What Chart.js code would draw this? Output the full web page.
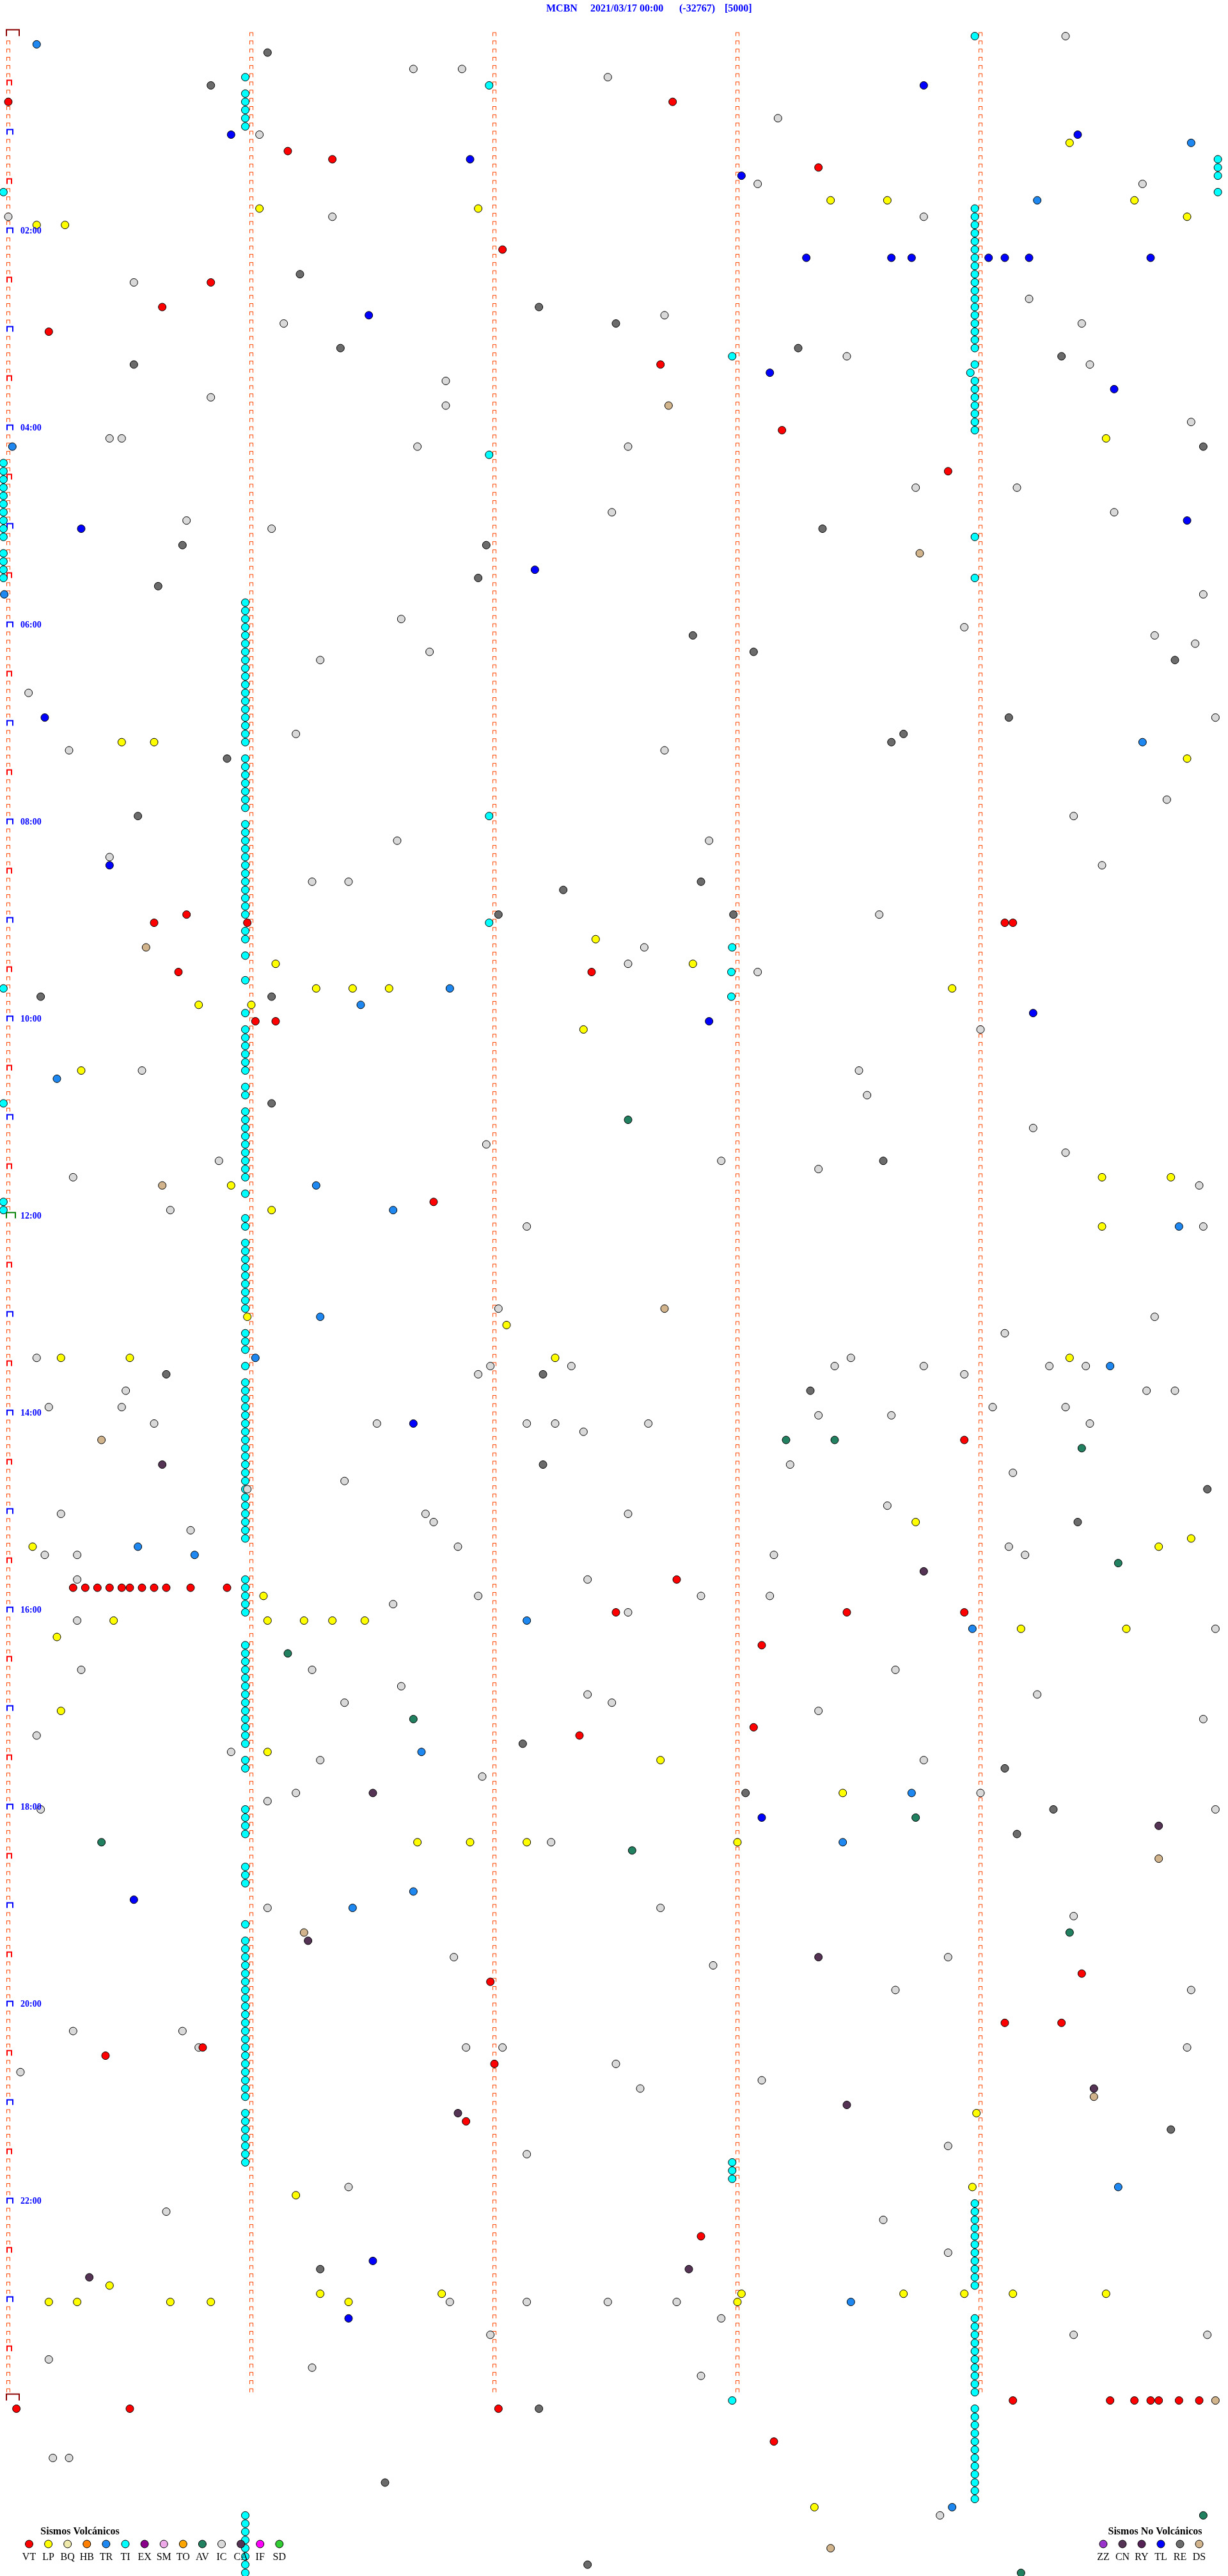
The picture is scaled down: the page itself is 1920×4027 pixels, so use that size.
<!DOCTYPE html>
<html><head><meta charset="utf-8">
<script src="https://cdn.jsdelivr.net/npm/chart.js@4.4.0/dist/chart.umd.min.js"></script>
<style>html,body{margin:0;padding:0;background:#fff;}canvas{display:block;}</style>
</head><body>
<canvas id="c" width="1920" height="4027"></canvas>
<script>
// ---------- header / labels ----------
const STATION = 'MCBN';
const DATE_LABEL = '2021/03/17 00:00';
const CLIP_LABEL = '(-32767)';
const SCALE_LABEL = '[5000]';
const HOUR_LABELS = ['02:00','04:00','06:00','08:00','10:00','12:00','14:00','16:00','18:00','20:00','22:00'];
const VOLC_TITLE = 'Sismos Volcánicos';
const VOLC_CODES = ['VT','LP','BQ','HB','TR','TI','EX','SM','TO','AV','IC','CA','IF','SD'];
const VOLC_COLORS = ['#FF0000','#FFFF00','#EEE8AA','#FF8000','#1E88F0','#00FFFF','#8B008B','#EEAAE8','#FFA500','#208060','#D9D9D9','#553355','#FF00FF','#32CD32'];
const NONVOLC_TITLE = 'Sismos No Volcánicos';
const NONVOLC_CODES = ['ZZ','CN','RY','TL','RE','DS'];
const NONVOLC_COLORS = ['#9933CC','#553355','#552255','#0000FF','#6B6B6B','#D2B48C'];

// rows of 5 minutes, x = seconds inside row, y = minute of day at row start
const ROW_MINUTES = 5;
const ROW_COUNT = 288;
const MARK_SECONDS = [0, 60, 120, 180, 240];

// ---------- events: [seconds in row, row start minute] ----------
const VT = [[0,40],[164,40],[69,70],[80,75],[200,80],[122,130],[50,150],[38,165],[10,180],[161,200],[191,240],[232,265],
[44,535],[36,540],[59,540],[246,540],[248,540],[42,570],[144,570],[61,600],[66,600],[105,710],[236,855],[165,940],
[16,945],[19,945],[22,945],[25,945],[28,945],[30,945],[33,945],[36,945],[39,945],[45,945],[54,945],
[150,960],[207,960],[236,960],[186,980],[184,1030],[141,1035],[265,1180],[119,1185],[246,1210],[260,1210],[48,1225],[24,1230],[120,1235],[113,1270],[171,1340],
[2,1445],[30,1445],[121,1445],[248,1440],[272,1440],[278,1440],[282,1440],[284,1440],[289,1440],[294,1440],[189,1465]];

const LP = [[262,65],[203,100],[217,100],[278,100],[7,115],[14,115],[62,105],[116,105],[291,110],[271,245],[28,430],[36,430],[291,440],
[145,550],[66,565],[169,565],[76,580],[85,580],[94,580],[233,580],[47,590],[60,590],[142,605],[18,630],[55,700],[65,715],
[270,695],[287,695],[270,725],[59,780],[123,785],[13,805],[30,805],[135,805],[262,805],[224,905],[6,920],[284,920],[292,915],
[63,950],[26,965],[64,965],[73,965],[80,965],[88,965],[250,970],[276,970],[12,975],[13,1020],[64,1045],[161,1050],[206,1070],
[101,1100],[114,1100],[128,1100],[180,1100],[239,1265],[238,1310],[71,1315],[25,1370],
[181,1375],[221,1375],[236,1375],[248,1375],[271,1375],[77,1375],[107,1375],
[10,1380],[17,1380],[40,1380],[50,1380],[84,1380],[180,1380],[199,1505]];

const IC = [[261,0],[100,20],[112,20],[148,25],[62,60],[190,50],[185,90],[280,90],[0,110],[80,110],[226,110],[31,150],[162,170],[252,160],[68,175],[265,175],
[207,195],[267,200],[108,210],[50,220],[108,225],[292,235],[25,245],[28,245],[101,250],[153,250],[224,275],[249,275],[149,290],[273,290],[44,295],[65,300],
[295,340],[97,355],[236,360],[283,365],[104,375],[77,380],[293,370],[5,400],[298,415],[71,425],[15,435],[162,435],[286,465],[263,475],[96,490],[173,490],
[25,500],[270,505],[75,515],[84,515],[215,535],[157,555],[153,565],[185,570],[240,605],[33,630],[210,630],[212,645],[253,665],[52,685],[118,675],[176,685],
[261,680],[200,690],[16,695],[294,700],[40,715],[128,725],[295,725],[246,790],[283,780],[121,775],[7,805],[139,810],[208,805],[204,810],[257,810],[266,810],
[119,810],[116,815],[226,810],[236,815],[29,825],[281,825],[288,825],[10,835],[28,835],[200,840],[218,840],[243,835],[261,835],[36,845],[91,845],
[128,845],[135,845],[142,850],[158,845],[267,845],[193,870],[248,875],[83,880],[59,885],[13,900],[45,910],[103,900],[105,905],[153,900],[217,895],
[9,925],[17,925],[111,920],[189,925],[247,920],[251,925],[17,940],[143,940],[171,950],[95,955],[116,950],[153,960],[188,950],[17,965],[298,970],
[75,995],[18,995],[219,995],[97,1005],[143,1010],[254,1010],[83,1015],[149,1015],[200,1020],[295,1025],[7,1035],[55,1045],[226,1050],[77,1050],
[117,1060],[71,1070],[240,1070],[64,1075],[8,1080],[298,1080],[134,1100],[64,1140],[161,1140],[263,1145],[110,1170],[174,1175],[232,1170],[219,1190],[292,1190],
[16,1215],[43,1215],[47,1225],[113,1225],[122,1225],[291,1225],[150,1235],[3,1240],[186,1245],[156,1250],[232,1285],[128,1290],[84,1310],[39,1325],[216,1330],
[232,1350],[165,1380],[109,1380],[128,1380],[148,1380],[176,1390],[119,1400],[263,1400],[296,1400],[10,1415],[75,1420],[171,1425],[11,1475],[15,1475],[230,1510]];

const RE = [[64,10],[50,30],[72,145],[131,165],[150,175],[82,190],[195,190],[260,195],[31,200],[295,250],[201,300],[43,310],[118,310],[116,330],[37,335],
[169,365],[184,375],[288,380],[247,415],[221,425],[218,430],[54,440],[32,475],[171,515],[137,520],[121,535],[179,535],[8,585],[65,585],[65,650],
[216,685],[39,815],[132,815],[198,825],[132,870],[296,885],[264,905],[127,1040],[246,1055],[182,1070],[258,1080],[249,1095],[287,1275],[77,1360],
[131,1445],[93,1490],[143,1540]];

const TL = [[226,30],[55,60],[264,60],[114,75],[181,85],[197,135],[218,135],[223,135],[242,135],[246,135],[252,135],[282,135],[89,170],[188,205],[273,215],
[18,300],[291,295],[130,325],[9,415],[25,505],[253,595],[173,600],[100,845],[186,1085],[31,1135],[90,1355],[84,1390]];

const TR = [[7,5],[292,65],[254,100],[1,250],[-1,340],[280,430],[109,580],[87,590],[12,635],[76,700],[95,715],[289,725],[77,780],[61,805],[272,810],
[32,920],[46,925],[238,970],[128,965],[102,1045],[223,1070],[206,1100],[85,1140],[100,1130],[274,1310],[208,1380],[233,1505]];

const TI = [
[58.5,25],[58.5,35],[58.5,40],[58.5,45],[58.5,50],[58.5,55],
[58.5,345],[58.5,350],[58.5,355],[58.5,360],[58.5,365],[58.5,370],[58.5,375],[58.5,380],[58.5,385],[58.5,390],[58.5,395],[58.5,400],[58.5,405],[58.5,410],[58.5,415],[58.5,420],[58.5,425],[58.5,430],
[58.5,440],[58.5,445],[58.5,450],[58.5,455],[58.5,460],[58.5,465],[58.5,470],
[58.5,480],[58.5,485],[58.5,490],[58.5,495],[58.5,500],[58.5,505],[58.5,510],[58.5,515],[58.5,520],[58.5,525],[58.5,530],[58.5,535],
[58.5,545],[58.5,550],[58.5,560],[58.5,575],[58.5,595],
[58.5,605],[58.5,610],[58.5,615],[58.5,620],[58.5,625],[58.5,630],[58.5,640],[58.5,645],
[58.5,655],[58.5,660],[58.5,665],[58.5,670],[58.5,675],[58.5,680],[58.5,685],[58.5,690],[58.5,695],[58.5,705],[58.5,720],[58.5,725],
[58.5,735],[58.5,740],[58.5,745],[58.5,750],[58.5,755],[58.5,760],[58.5,765],[58.5,770],[58.5,775],
[58.5,790],[58.5,795],[58.5,800],[58.5,810],
[58.5,820],[58.5,825],[58.5,830],[58.5,835],[58.5,840],[58.5,845],[58.5,850],[58.5,855],[58.5,860],[58.5,865],[58.5,870],[58.5,875],[58.5,880],[58.5,885],[58.5,890],[58.5,895],[58.5,900],[58.5,905],[58.5,910],[58.5,915],
[58.5,940],[58.5,945],[58.5,950],[58.5,955],[58.5,960],
[58.5,980],[58.5,985],[58.5,990],[58.5,995],[58.5,1000],[58.5,1005],[58.5,1010],[58.5,1015],[58.5,1020],[58.5,1025],[58.5,1030],[58.5,1035],[58.5,1040],
[58.5,1050],[58.5,1055],[58.5,1080],[58.5,1085],[58.5,1090],[58.5,1095],[58.5,1115],[58.5,1120],[58.5,1125],[58.5,1150],
[58.5,1160],[58.5,1165],[58.5,1170],[58.5,1175],[58.5,1180],[58.5,1185],[58.5,1190],[58.5,1195],[58.5,1200],[58.5,1205],[58.5,1210],[58.5,1215],[58.5,1220],[58.5,1225],[58.5,1230],[58.5,1235],[58.5,1240],[58.5,1245],[58.5,1250],[58.5,1255],
[58.5,1265],[58.5,1270],[58.5,1275],[58.5,1280],[58.5,1285],[58.5,1290],[58.5,1295],
[58.5,1510],[58.5,1515],[58.5,1520],[58.5,1525],[58.5,1530],[58.5,1535],[58.5,1540],[58.5,1545],
[238.6,0],[238.6,105],[238.6,110],[238.6,115],[238.6,120],[238.6,125],[238.6,130],[238.6,135],[238.6,140],[238.6,145],[238.6,150],[238.6,155],[238.6,160],[238.6,165],[238.6,170],[238.6,175],[238.6,180],[238.6,185],[238.6,190],
[238.6,200],[237.5,205],[238.6,210],[238.6,215],[238.6,220],[238.6,225],[238.6,230],[238.6,235],[238.6,240],[238.6,305],[238.6,330],
[238.6,1320],[238.6,1325],[238.6,1330],[238.6,1335],[238.6,1340],[238.6,1345],[238.6,1350],[238.6,1355],[238.6,1360],[238.6,1365],[238.6,1370],
[238.6,1390],[238.6,1395],[238.6,1400],[238.6,1405],[238.6,1410],[238.6,1415],[238.6,1420],[238.6,1425],[238.6,1430],[238.6,1435],
[238.6,1445],[238.6,1450],[238.6,1455],[238.6,1460],[238.6,1465],[238.6,1470],[238.6,1475],[238.6,1480],[238.6,1485],[238.6,1490],[238.6,1495],[238.6,1500],
[118.7,30],[118.7,255],[118.7,475],[118.7,540],
[178.7,195],[178.7,555],[178.5,570],[178.5,585],[178.7,1295],[178.7,1300],[178.7,1305],[178.7,1440],
[-1.2,95],[-1.2,260],[-1.2,265],[-1.2,270],[-1.2,275],[-1.2,280],[-1.2,285],[-1.2,290],[-1.2,295],[-1.2,300],[-1.2,305],
[-1.2,315],[-1.2,320],[-1.2,325],[-1.2,330],[-1.2,580],[-1.2,650],[-1.2,710],[-1.2,715],
[298.6,75],[298.6,80],[298.6,85],[298.6,95]];

const AV = [[153,660],[192,855],[204,855],[265,860],[274,930],[69,985],[100,1025],[224,1085],[23,1100],[154,1105],[262,1155],[295,1510],[250,1545]];
const CN = [[38,870],[226,935],[90,1070],[284,1090],[74,1160],[200,1170],[268,1250],[207,1260],[111,1265],[168,1360],[20,1365]];
const DS = [[163,225],[225,315],[34,555],[38,700],[162,775],[23,855],[284,1110],[73,1155],[268,1255],[298,1440],[203,1530]];

// ---------- scale window (seconds / minutes) ----------
const X_MIN = -2.05, X_MAX = 301.1;
const Y_MIN = -22.01, Y_MAX = 1546.9;

// ---------- glyphs for the row tick marks ----------
function bracket(L, R, T, B, lw, color) {
  const hw = Math.ceil(Math.max(Math.abs(L), Math.abs(R))) + 1;
  const hh = Math.ceil(Math.max(Math.abs(T), Math.abs(B))) + 1;
  const cv = document.createElement('canvas');
  cv.width = hw * 2; cv.height = hh * 2;
  const g = cv.getContext('2d');
  g.fillStyle = color;
  g.fillRect(hw + L, hh + T, R - L, lw);
  g.fillRect(hw + L, hh + T, lw, B - T);
  g.fillRect(hw + R - lw, hh + T, lw, B - T);
  return cv;
}
const G_SMALL = bracket(-3, 3, -6, 0, 1, '#FF4500');
const G_HOUR = bracket(-3, 8, -9, 0, 2, '#0000FF');
const G_HALF = bracket(-3, 6, -9, 0, 2, '#FF0000');
const G_NOON = bracket(-4, 12, -10, 0, 2, '#008000');
const G_DAY = bracket(-4, 18, -11, 0, 2, '#8B0000');

const small = [], hour = [], half = [], noon = [], day = [];
for (let r = 0; r < ROW_COUNT; r++) {
  MARK_SECONDS.forEach(s => {
    const p = {x: s, y: r * ROW_MINUTES};
    if (s === 0 && r % 6 === 0) {
      if (r === 0) day.push(p);
      else if (r === 144) noon.push(p);
      else if (r % 12 === 0) hour.push(p);
      else half.push(p);
    } else small.push(p);
  });
}
day.push({x: 0, y: ROW_COUNT * ROW_MINUTES});

function markDs(data, glyph) {
  return {data, pointStyle: glyph, pointRadius: 1, pointHoverRadius: 1, borderWidth: 0, backgroundColor: 'rgba(0,0,0,0)', order: 100, clip: false};
}
function evDs(label, pts, color, order) {
  return {label, data: pts.map(p => ({x: p[0], y: p[1]})), backgroundColor: color, borderColor: '#000000', borderWidth: 1,
    pointRadius: 6, pointHoverRadius: 6, pointStyle: 'circle', order, clip: false};
}

const deco = {
  id: 'deco',
  afterDraw(chart) {
    const ctx = chart.ctx, ys = chart.scales.y;
    ctx.save();
    ctx.fillStyle = '#0000FF';
    ctx.textAlign = 'left';
    ctx.textBaseline = 'alphabetic';
    ctx.font = 'bold 16px "Liberation Serif"';
    ctx.fillText(STATION, 854, 18);
    ctx.fillText(DATE_LABEL, 923, 18);
    ctx.fillText(CLIP_LABEL, 1062, 18);
    ctx.fillText(SCALE_LABEL, 1133, 18);
    ctx.font = 'bold 14px "Liberation Serif"';
    HOUR_LABELS.forEach(h => {
      const row = parseInt(h, 10) * 60 / ROW_MINUTES;
      ctx.fillText(h, 32, Math.round(ys.getPixelForValue(row * ROW_MINUTES)));
    });
    function legend(title, titleX, codes, colors, x0, dx) {
      ctx.fillStyle = '#000000';
      ctx.textAlign = 'center';
      ctx.font = 'bold 16px "Liberation Serif"';
      ctx.fillText(title, titleX, 3962);
      ctx.font = '16px "Liberation Serif"';
      codes.forEach((c, i) => {
        const x = x0 + dx * i;
        ctx.beginPath();
        ctx.arc(x, 3977, 6, 0, Math.PI * 2);
        ctx.fillStyle = colors[i];
        ctx.fill();
        ctx.lineWidth = 1;
        ctx.strokeStyle = '#000000';
        ctx.stroke();
        ctx.fillStyle = '#000000';
        ctx.fillText(c, x, 4002);
      });
    }
    legend(VOLC_TITLE, 125, VOLC_CODES, VOLC_COLORS, 45.5, 30.1);
    legend(NONVOLC_TITLE, 1806, NONVOLC_CODES, NONVOLC_COLORS, 1725, 30);
    ctx.restore();
  }
};

new Chart(document.getElementById('c'), {
  type: 'scatter',
  data: {datasets: [
    evDs('VT', VT, '#FF0000', 1),
    evDs('LP', LP, '#FFFF00', 2),
    evDs('TR', TR, '#1E88F0', 3),
    evDs('TL', TL, '#0000FF', 4),
    evDs('RE', RE, '#6B6B6B', 5),
    evDs('CN', CN, '#553355', 6),
    evDs('AV', AV, '#208060', 7),
    evDs('DS', DS, '#D2B48C', 8),
    evDs('IC', IC, '#D9D9D9', 9),
    evDs('TI', TI, '#00FFFF', 50),
    markDs(small, G_SMALL),
    markDs(hour, G_HOUR),
    markDs(half, G_HALF),
    markDs(noon, G_NOON),
    markDs(day, G_DAY)
  ]},
  options: {
    responsive: false,
    maintainAspectRatio: false,
    animation: false,
    devicePixelRatio: 1,
    events: [],
    layout: {padding: 0, autoPadding: false},
    plugins: {legend: {display: false}, tooltip: {enabled: false}, title: {display: false}},
    scales: {
      x: {type: 'linear', display: false, min: X_MIN, max: X_MAX},
      y: {type: 'linear', display: false, reverse: true, min: Y_MIN, max: Y_MAX}
    }
  },
  plugins: [deco]
});
</script>
</body></html>
